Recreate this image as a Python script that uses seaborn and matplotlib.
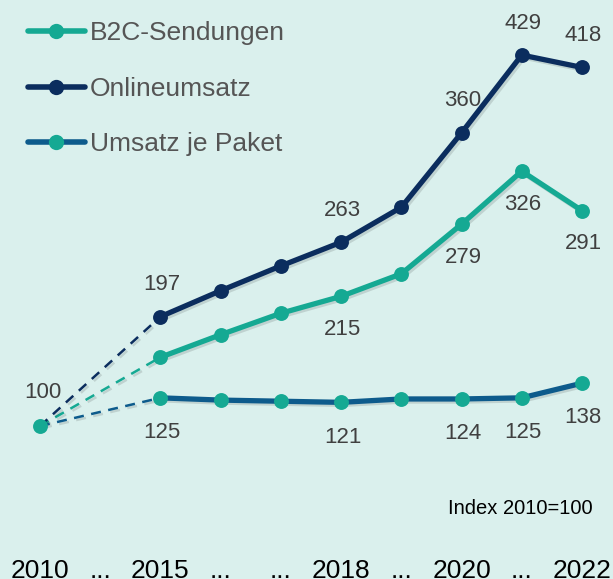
import numpy as np
import pandas as pd
import matplotlib
matplotlib.use("Agg")
import matplotlib.pyplot as plt
import matplotlib.patheffects as pe
import seaborn as sns
from matplotlib.lines import Line2D

# ---- data ----
tick_labels = ["2010", "...", "2015", "...", "...", "2018", "...", "2020", "...", "2022"]
positions = [0, 2, 3, 4, 5, 6, 7, 8, 9]          # 2010, 2015..2022
series_names = ["B2C-Sendungen", "Onlineumsatz", "Umsatz je Paket"]
b2c = [100, 161, 181, 200, 215, 235, 279, 326, 291]
online = [100, 197, 220, 242, 263, 294, 360, 429, 418]
paket = [100, 125, 123, 122, 121, 124, 124, 125, 138]
labels_b2c = [None, None, None, None, 215, None, 279, 326, 291]
labels_online = [None, 197, None, None, 263, None, 360, 429, 418]
labels_paket = [None, 125, None, None, 121, None, 124, 125, 138]

bg = "#daf0ed"
teal = "#15a993"
navy = "#0b2d5e"
steel = "#0d5b8c"
txt = "#404040"

sns.set_theme(style="white")
plt.rcParams["font.family"] = ["Liberation Sans", "DejaVu Sans"]

fig = plt.figure(figsize=(6.13, 5.79), dpi=100, facecolor=bg)
ax = fig.add_axes([0, 34 / 579, 1, 545 / 579])
ax.set_facecolor(bg)

line_colors = {"B2C-Sendungen": teal, "Onlineumsatz": navy, "Umsatz je Paket": steel}
marker_colors = {"B2C-Sendungen": teal, "Onlineumsatz": navy, "Umsatz je Paket": teal}
values = {"B2C-Sendungen": b2c, "Onlineumsatz": online, "Umsatz je Paket": paket}
shadow = [pe.SimpleLineShadow(offset=(1.5, -1.5), alpha=0.12, shadow_color="black"), pe.Normal()]

# solid lines 2015..2022
rows = []
for name in series_names:
    for p, v in zip(positions[1:], values[name][1:]):
        rows.append({"pos": p, "value": v, "series": name})
df = pd.DataFrame(rows)

# dashed segments 2010 -> 2015
for name in series_names:
    d = pd.DataFrame({"pos": positions[:2], "value": values[name][:2]})
    sns.lineplot(data=d, x="pos", y="value", ax=ax, color=line_colors[name],
                 lw=1.8, linestyle=(0, (4, 3)), legend=False, zorder=2,
                 path_effects=shadow)

sns.lineplot(data=df, x="pos", y="value", hue="series", palette=line_colors,
             lw=3.8, ax=ax, legend=False, zorder=3, path_effects=shadow)
for name in series_names:
    d = df[df.series == name]
    ax.scatter(d["pos"], d["value"], s=115, color=marker_colors[name],
               zorder=4, linewidths=0)
ax.scatter([positions[0]], [b2c[0]], s=115, color=teal, zorder=5, linewidths=0)

# data labels
for lbls, vals, off in [(labels_online, online, 23), (labels_b2c, b2c, -24),
                        (labels_paket, paket, -25)]:
    for p, v, l in zip(positions, vals, lbls):
        if l is None:
            continue
        ax.annotate(str(l), (p, v), xytext=(1, off), textcoords="offset points",
                    ha="center", va="center", fontsize=16, color=txt)
ax.annotate(str(b2c[0]), (positions[0], b2c[0]), xytext=(2, 24),
            textcoords="offset points", ha="center", va="center", fontsize=16, color=txt)

fig.text(593 / 613, 1 - 509 / 579, "Index 2010=100", fontsize=14.5, color="black",
         ha="right", va="center")

# axes styling
ax.set_xlim(-0.664, 9.515)
ax.set_ylim(-5.5, 477.8)
ax.set_xticks(range(len(tick_labels)))
ax.set_xticklabels(tick_labels, fontsize=19, color="black")
ax.tick_params(axis="x", length=0, pad=10)
ax.set_yticks([])
ax.set_xlabel("")
ax.set_ylabel("")
for s in ax.spines.values():
    s.set_visible(False)

# legend
handles = [Line2D([0], [0], color=line_colors[n], lw=4, marker="o", markersize=11,
                  markerfacecolor=marker_colors[n], markeredgewidth=0) for n in series_names]
leg = ax.legend(handles, series_names, loc="upper left", bbox_to_anchor=(0.011, 1.0),
                frameon=False, fontsize=19, handlelength=2.15, handletextpad=0.2,
                labelspacing=1.2, borderaxespad=0.4)
for t in leg.get_texts():
    t.set_color("#555555")

fig.savefig("out.png", dpi=100, facecolor=bg)
